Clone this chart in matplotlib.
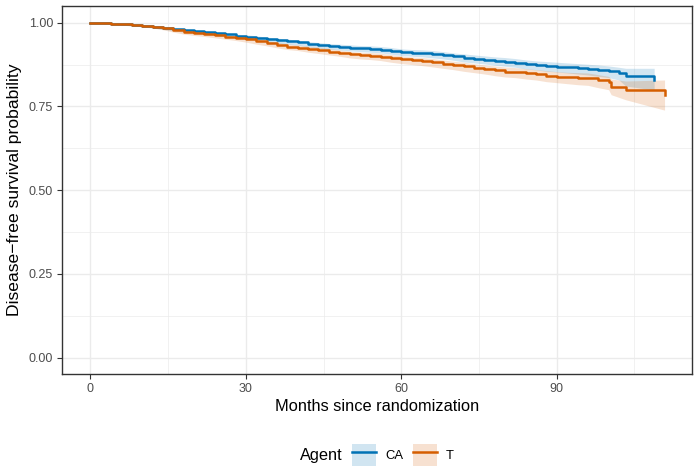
import matplotlib
matplotlib.use("Agg")
import matplotlib.pyplot as plt
from matplotlib.patches import Patch
from matplotlib.lines import Line2D

plt.rcParams["font.family"] = ["Liberation Sans", "DejaVu Sans"]

# Kaplan-Meier estimates (with 95% band)
ca_t = [0, 2, 4, 6, 8, 10, 12, 14, 16, 18, 20, 22, 24, 26, 28, 30, 32, 34, 36, 38, 40,
        42, 44, 46, 48, 50, 52, 54, 56, 58, 60, 62, 64, 66, 68, 70, 72, 74, 76, 78, 80,
        82, 84, 86, 88, 90, 92, 94, 96, 98, 100, 102, 103.3, 108.8]
ca_s = [1.000, 0.999, 0.997, 0.995, 0.993, 0.991, 0.988, 0.984, 0.980, 0.977, 0.974,
        0.971, 0.968, 0.965, 0.961, 0.958, 0.955, 0.951, 0.947, 0.944, 0.941, 0.937,
        0.933, 0.930, 0.928, 0.926, 0.924, 0.922, 0.920, 0.917, 0.913, 0.911, 0.909,
        0.907, 0.904, 0.900, 0.896, 0.893, 0.890, 0.887, 0.884, 0.881, 0.877, 0.874,
        0.871, 0.869, 0.867, 0.864, 0.862, 0.859, 0.856, 0.851, 0.841, 0.829]
ca_lo = [1.000, 0.998, 0.996, 0.993, 0.991, 0.988, 0.985, 0.980, 0.976, 0.972, 0.969,
         0.966, 0.962, 0.959, 0.955, 0.951, 0.948, 0.944, 0.939, 0.936, 0.933, 0.928,
         0.924, 0.921, 0.919, 0.916, 0.914, 0.912, 0.910, 0.906, 0.902, 0.900, 0.898,
         0.895, 0.892, 0.888, 0.883, 0.880, 0.877, 0.873, 0.870, 0.867, 0.862, 0.859,
         0.855, 0.853, 0.850, 0.847, 0.844, 0.840, 0.836, 0.829, 0.811, 0.799]
ca_hi = [1.000, 1.000, 0.998, 0.997, 0.995, 0.993, 0.991, 0.987, 0.984, 0.981, 0.978,
         0.976, 0.973, 0.970, 0.966, 0.964, 0.961, 0.957, 0.954, 0.951, 0.948, 0.944,
         0.941, 0.938, 0.936, 0.934, 0.932, 0.931, 0.929, 0.926, 0.922, 0.920, 0.919,
         0.917, 0.914, 0.910, 0.907, 0.904, 0.901, 0.898, 0.896, 0.893, 0.889, 0.886,
         0.884, 0.882, 0.880, 0.878, 0.876, 0.874, 0.871, 0.867, 0.864, 0.864]

t_t = [0, 2, 4, 6, 8, 10, 12, 14, 16, 18, 20, 22, 24, 26, 28, 30, 32, 34, 36, 38, 40,
       42, 44, 46, 48, 50, 52, 54, 56, 58, 60, 62, 64, 66, 68, 70, 72, 74, 76, 78, 80,
       82, 84, 86, 88, 90, 92, 94, 96, 98, 100, 100.5, 103.3, 110.8]
t_s = [1.000, 0.999, 0.997, 0.995, 0.993, 0.991, 0.988, 0.984, 0.977, 0.972, 0.968,
       0.965, 0.962, 0.958, 0.954, 0.950, 0.944, 0.939, 0.934, 0.929, 0.926, 0.922,
       0.918, 0.914, 0.910, 0.906, 0.903, 0.901, 0.899, 0.895, 0.891, 0.888, 0.885,
       0.882, 0.878, 0.874, 0.870, 0.866, 0.862, 0.858, 0.854, 0.852, 0.849, 0.846,
       0.842, 0.839, 0.837, 0.835, 0.834, 0.828, 0.822, 0.809, 0.799, 0.784]
t_lo = [1.000, 0.998, 0.996, 0.993, 0.990, 0.988, 0.984, 0.979, 0.972, 0.966, 0.962,
        0.959, 0.955, 0.951, 0.947, 0.942, 0.936, 0.931, 0.925, 0.920, 0.917, 0.912,
        0.908, 0.904, 0.900, 0.895, 0.892, 0.890, 0.887, 0.882, 0.878, 0.875, 0.872,
        0.868, 0.864, 0.860, 0.855, 0.851, 0.847, 0.842, 0.838, 0.836, 0.832, 0.829,
        0.824, 0.821, 0.818, 0.815, 0.813, 0.806, 0.800, 0.785, 0.770, 0.739]
t_hi = [1.000, 1.000, 0.998, 0.997, 0.995, 0.993, 0.991, 0.988, 0.981, 0.977, 0.973,
        0.970, 0.968, 0.964, 0.960, 0.957, 0.951, 0.946, 0.942, 0.937, 0.934, 0.930,
        0.927, 0.923, 0.919, 0.915, 0.912, 0.911, 0.909, 0.905, 0.901, 0.898, 0.896,
        0.893, 0.889, 0.885, 0.882, 0.878, 0.874, 0.871, 0.868, 0.866, 0.863, 0.860,
        0.857, 0.854, 0.852, 0.851, 0.850, 0.845, 0.840, 0.832, 0.826, 0.829]

labels = ["CA", "T"]
colors = ["#0072B5", "#D55E00"]

fig = plt.figure(figsize=(6.99, 4.73), dpi=100)
ax = fig.add_axes([62 / 699, 1 - 374.3 / 473, 630 / 699, 368.3 / 473])

series = [(ca_t, ca_s, ca_lo, ca_hi), (t_t, t_s, t_lo, t_hi)]
for (tt, ss, lo, hi), c in zip(series, colors):
    ax.fill_between(tt, lo, hi, color=c, alpha=0.18, lw=0, zorder=2)
for (tt, ss, lo, hi), c in zip(series, colors):
    ax.step(tt, ss, where="post", color=c, lw=1.8, zorder=3)

ax.set_xlim(-5.5, 116.1)
ax.set_ylim(-0.05, 1.05)
ax.set_xticks([0, 30, 60, 90])
ax.set_yticks([0, 0.25, 0.5, 0.75, 1.0])
ax.set_yticklabels(["0.00", "0.25", "0.50", "0.75", "1.00"])
ax.set_xticks([15, 45, 75, 105], minor=True)
ax.set_yticks([0.125, 0.375, 0.625, 0.875], minor=True)
ax.grid(which="major", color="#EBEBEB", lw=1.0, zorder=0)
ax.grid(which="minor", color="#EBEBEB", lw=0.5, zorder=0)
ax.set_axisbelow(True)
ax.tick_params(which="major", length=3.5, color="#333333", labelcolor="#4D4D4D",
               labelsize=9.0, width=0.8, pad=3)
ax.tick_params(which="minor", length=0)
for sp in ax.spines.values():
    sp.set_color("#333333")
    sp.set_linewidth(1.0)

ax.set_xlabel("Months since randomization", fontsize=11.8, labelpad=3)
ax.set_ylabel("Disease\u2212free survival probability", fontsize=12.6, labelpad=5)

handles = [(Patch(facecolor=c, alpha=0.18, edgecolor="none"), Line2D([], [], color=c, lw=1.8))
           for c in colors]
fig.legend(handles, labels, loc="center left", bbox_to_anchor=(347 / 699, 1 - 455 / 473),
           ncol=2, frameon=False, fontsize=9.4, handlelength=1.85, handleheight=2.2,
           handletextpad=0.7, columnspacing=0.7, borderaxespad=0)
fig.text(300 / 699, 1 - 455 / 473, "Agent", fontsize=11.8, va="center", ha="left")

fig.savefig("out.png", dpi=100)
